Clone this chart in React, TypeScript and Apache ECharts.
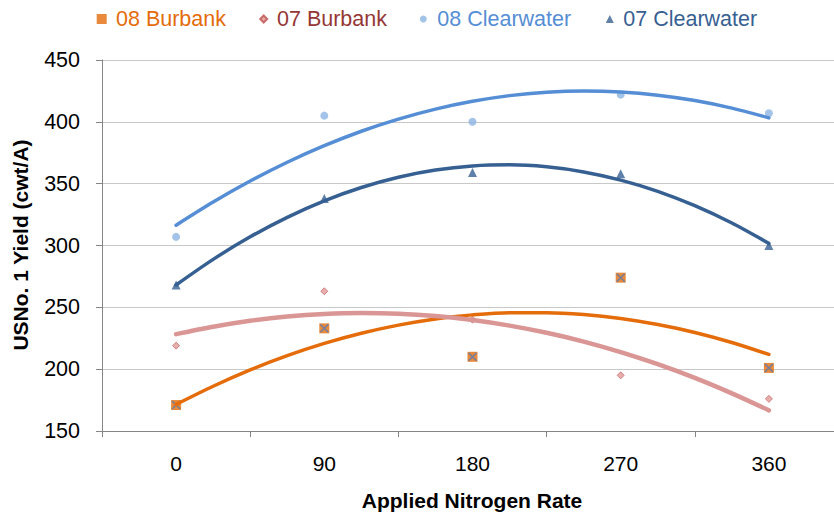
import React, { useEffect, useRef } from "react";
import * as echarts from "echarts";

// Tick labels of the nitrogen axis
const xCategories = ["0", "90", "180", "270", "360"];
// Applied nitrogen rates of the observations
const nRates = [0, 90, 180, 270, 360];

const burbank08 = [171, 233, 210, 274, 201];
const burbank07 = [219, 263, 240, 195, 176];
const clearwater08 = [307, 405, 400, 422, 407];
const clearwater07 = [268, 338, 359, 358, 300];

// Trend curves at these rates
const trendX = [0, 22.5, 45, 67.5, 90, 112.5, 135, 157.5, 180, 202.5, 225, 247.5, 270, 292.5, 315, 337.5, 360];
const burbank08Trend = [171.5, 186.2, 199.4, 210.9, 220.8, 229.0, 235.6, 240.6, 243.9, 245.7, 245.7, 244.2, 241.0, 236.1, 229.7, 221.6, 211.9];
const burbank07Trend = [228.3, 234.3, 239.1, 242.5, 244.6, 245.4, 244.8, 242.9, 239.7, 235.2, 229.4, 222.3, 213.8, 204.0, 192.9, 180.4, 166.7];
const clearwater08Trend = [316.4, 335.1, 352.1, 367.3, 380.7, 392.4, 402.2, 410.3, 416.6, 421.2, 423.9, 424.9, 424.1, 421.5, 417.2, 411.1, 403.2];
const clearwater07Trend = [268.1, 288.8, 307.0, 322.8, 336.1, 346.9, 355.2, 361.0, 364.3, 365.2, 363.6, 359.5, 352.9, 343.8, 332.2, 318.2, 301.7];

const FONT = "'Liberation Sans', Arial, sans-serif";

const pairs = (xs: number[], ys: number[]) => xs.map((x, i) => [x, ys[i]]);

const X_PATH =
  "path://M0,1.2 L1.2,0 L5,3.8 L8.8,0 L10,1.2 L6.2,5 L10,8.8 L8.8,10 L5,6.2 L1.2,10 L0,8.8 L3.8,5 Z";

export default function App() {
  const ref = useRef<HTMLDivElement>(null);

  useEffect(() => {
    if (!ref.current) return;
    const chart = echarts.init(ref.current, null, { renderer: "svg" });

    const legendBase = (
      name: string,
      left: number,
      size: number,
      color: string,
      pad: number
    ) => ({
      data: [name],
      left,
      top: 8,
      padding: 0,
      itemWidth: size,
      itemHeight: size,
      selectedMode: false,
      textStyle: {
        color,
        fontSize: 21.5,
        fontFamily: FONT,
        padding: [0, 0, 0, pad],
      },
    });

    const trend = (name: string, data: number[], color: string, width: number) => ({
      name,
      type: "line",
      xAxisIndex: 0,
      yAxisIndex: 0,
      data: pairs(trendX, data),
      smooth: 0.3,
      showSymbol: false,
      symbol: "none",
      lineStyle: { color, width, cap: "round" },
      z: 4,
      silent: true,
    });

    const option: any = {
      animation: false,
      backgroundColor: "#ffffff",
      legend: [
        legendBase("08 Burbank", 96.7, 10, "#E46C0A", 4.3),
        legendBase("07 Burbank", 259.2, 7, "#953735", 4.8),
        legendBase("08 Clearwater", 419.8, 7, "#558ED5", 5.5),
        legendBase("07 Clearwater", 605.8, 8, "#376092", 4.5),
      ],
      grid: { left: 102, right: 0, top: 60, bottom: 92 },
      xAxis: [
        {
          type: "value",
          min: -45,
          max: 405,
          show: false,
        },
        {
          type: "category",
          data: xCategories,
          position: "bottom",
          boundaryGap: true,
          axisLine: { show: true, onZero: false, lineStyle: { color: "#868686", width: 1 } },
          axisTick: { show: true, length: 6, lineStyle: { color: "#868686" } },
          axisLabel: {
            interval: 0,
            margin: 22,
            color: "#000000",
            fontSize: 21,
            fontFamily: FONT,
          },
          splitLine: { show: false },
        },
      ],
      yAxis: {
        type: "value",
        min: 150,
        max: 450,
        interval: 50,
        axisLine: { show: true, onZero: false, lineStyle: { color: "#868686", width: 1 } },
        axisTick: { show: true, length: 6, lineStyle: { color: "#868686" } },
        axisLabel: {
          margin: 22,
          color: "#000000",
          fontSize: 21.5,
          fontFamily: FONT,
        },
        splitLine: { show: true, lineStyle: { color: "#C8C8C8", width: 1 } },
      },
      graphic: [
        {
          type: "text",
          x: 20,
          y: 245,
          rotation: Math.PI / 2,
          style: {
            text: "USNo. 1 Yield (cwt/A)",
            font: `bold 21px ${FONT}`,
            fill: "#000000",
            textAlign: "center",
            textVerticalAlign: "middle",
          },
        },
        {
          type: "text",
          x: 472,
          y: 500,
          style: {
            text: "Applied Nitrogen Rate",
            font: `bold 21px ${FONT}`,
            fill: "#000000",
            textAlign: "center",
            textVerticalAlign: "middle",
          },
        },
      ],
      series: [
        {
          name: "08 Burbank",
          type: "scatter",
          xAxisIndex: 0,
          data: pairs(nRates, burbank08),
          symbol: "rect",
          symbolSize: 10,
          itemStyle: { color: "#E46C0A" },
          z: 2,
        },
        {
          name: "08 Burbank",
          type: "scatter",
          xAxisIndex: 0,
          data: pairs(nRates, burbank08),
          symbol: X_PATH,
          symbolSize: 9,
          itemStyle: { color: "#5B7DB1" },
          z: 3,
        },
        {
          name: "07 Burbank",
          type: "scatter",
          xAxisIndex: 0,
          data: pairs(nRates, burbank07),
          symbol: "diamond",
          symbolSize: 7,
          itemStyle: { color: "#E09A98", borderColor: "#C0504D", borderWidth: 0.8 },
          z: 2,
        },
        {
          name: "08 Clearwater",
          type: "scatter",
          xAxisIndex: 0,
          data: pairs(nRates, clearwater08),
          symbol: "circle",
          symbolSize: 8,
          itemStyle: { color: "#8DB4E2" },
          z: 2,
        },
        {
          name: "07 Clearwater",
          type: "scatter",
          xAxisIndex: 0,
          data: pairs(nRates, clearwater07),
          symbol: "triangle",
          symbolSize: 9,
          itemStyle: { color: "#376092" },
          z: 2,
        },
        trend("08 Burbank trend", burbank08Trend, "#E46C0A", 3.5),
        trend("07 Burbank trend", burbank07Trend, "#DA9694", 4.5),
        trend("08 Clearwater trend", clearwater08Trend, "#558ED5", 3.5),
        trend("07 Clearwater trend", clearwater07Trend, "#376092", 3.5),
      ],
    };

    chart.setOption(option);
    return () => chart.dispose();
  }, []);

  return (
    <div
      style={{
        position: "absolute",
        left: 0,
        top: 0,
        width: 834,
        height: 523,
        overflow: "hidden",
      }}
    >
      <div ref={ref} style={{ width: 843, height: 523 }} />
    </div>
  );
}
